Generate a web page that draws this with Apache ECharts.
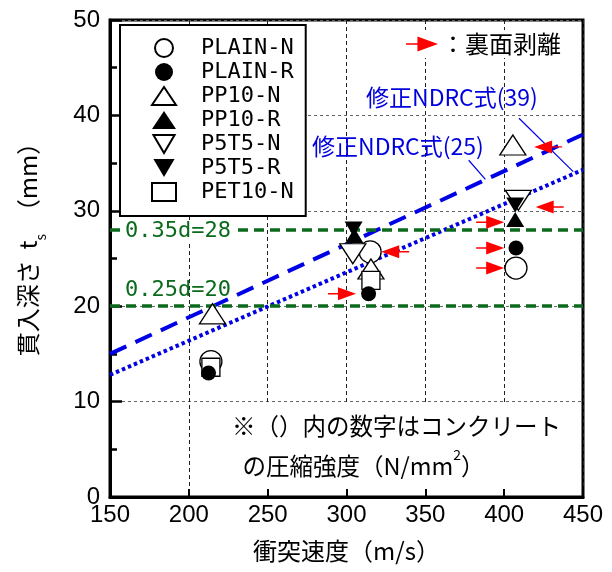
<!DOCTYPE html>
<html>
<head>
<meta charset="utf-8">
<script src="https://cdn.jsdelivr.net/npm/echarts/dist/echarts.min.js"></script>
<style>
  html, body { margin: 0; padding: 0; background: #fff; }
  #chart { width: 612px; height: 572px; }
</style>
</head>
<body>
<div id="chart"></div>
<script>
// measured penetration depth t_s (mm) vs impact speed (m/s)
var plainN = [[214, 14.2], [315, 25.7], [407.5, 24.0]];
var plainR = [[212.5, 13.0], [314, 21.3], [407.5, 26.1]];
var pp10N = [[215, 19.2], [315.5, 23.9], [405.5, 36.9]];
var pp10R = [[305, 27.4], [407, 29.1]];
var p5t5N = [[304, 25.5], [409, 31.1]];
var p5t5R = [[304.5, 28.1], [407, 30.6]];
var pet10N = [[214, 13.6], [315.5, 22.7]];

// rear-face spalling markers (arrow tip positions)
var spallRight = [[306, 21.3], [400, 28.8], [400, 26.1], [400, 24.0]];
var spallLeft = [[322, 25.7], [419, 36.7], [420, 30.4]];

// modified NDRC formula, concrete strength 25 / 39 N/mm2
var ndrc25 = [[150, 15.0], [450, 38.0]];
var ndrc39 = [[150, 12.8], [450, 34.3]];
var lead25 = [[377.5, 35.3], [388.1, 33.3]];
var lead39 = [[409.4, 39.7], [443.8, 34.1]];

// 0.35d / 0.25d limits
var limits = [28, 20];
var limitLabels = ['0.35d=28', '0.25d=20'];

var xTicks = { min: 150, max: 450, step: 50 };
var yTicks = { min: 0, max: 50, step: 10 };

var numFont = 'Liberation Sans, sans-serif';
var monoFont = 'DejaVu Sans Mono, monospace';
var jpFont = 'Noto Sans CJK JP, sans-serif';

var chart = echarts.init(document.getElementById('chart'));

var openStyle = { color: '#fff', borderColor: '#000', borderWidth: 1.3, opacity: 1 };
var fillStyle = { color: '#000', borderColor: '#000', borderWidth: 0, opacity: 1 };
var downTri = 'path://M0,0 L20,0 L10,17 Z';
var arrowR = 'path://M0,5.8 L10,5.8 L10,0 L28,6.5 L10,13 L10,7.2 L0,7.2 Z';
var arrowL = 'path://M28,5.8 L18,5.8 L18,0 L0,6.5 L18,13 L18,7.2 L28,7.2 Z';

function pts(name, data, symbol, size, style, z) {
  return {
    name: name,
    type: 'scatter',
    data: data,
    symbol: symbol,
    symbolSize: size,
    itemStyle: style,
    z: z,
    emphasis: { disabled: true }
  }
}

chart.setOption({
  animation: false,
  grid: {
    left: 103,
    right: 29,
    top: 20,
    bottom: 75,
    show: true,
    borderColor: '#000',
    borderWidth: 3
  },
  legend: [{
    data: ['PLAIN-N', 'PLAIN-R', 'PP10-N', 'PP10-R', 'P5T5-N', 'P5T5-R', 'PET10-N'],
    orient: 'vertical',
    left: 120,
    top: 25,
    padding: [12, 12, 13, 31],
    itemWidth: 24,
    itemHeight: 18,
    itemGap: 2,
    backgroundColor: '#fff',
    borderColor: '#000',
    borderWidth: 2,
    borderRadius: 0,
    selectedMode: false,
    textStyle: {
      fontFamily: monoFont,
      fontSize: 22,
      color: '#000',
      padding: [0, 0, 0, 20]
    }
  }, {
    data: ['裏面剥離'],
    left: 404,
    top: 30,
    padding: [2, 4, 2, 2],
    itemWidth: 32,
    itemHeight: 15,
    backgroundColor: '#fff',
    selectedMode: false,
    formatter: '：裏面剥離',
    textStyle: { fontFamily: jpFont, fontSize: 24, color: '#000', padding: [0, 0, 0, -2] }
  }],
  xAxis: {
    type: 'value',
    min: xTicks.min,
    max: xTicks.max,
    interval: xTicks.step,
    name: '衝突速度（m/s）',
    nameLocation: 'middle',
    nameGap: 42,
    nameTextStyle: { fontFamily: jpFont, fontSize: 24, color: '#000' },
    axisLine: { lineStyle: { color: '#000', width: 3 } },
    axisTick: { inside: true, length: 8, lineStyle: { color: '#000', width: 2 } },
    axisLabel: { fontFamily: numFont, fontSize: 24, color: '#000', margin: 6 },
    splitLine: { show: true, lineStyle: { color: '#222', width: 1, type: [4, 3] } }
  },
  yAxis: {
    type: 'value',
    min: yTicks.min,
    max: yTicks.max,
    interval: yTicks.step,
    name: '貫入深さ  t{s|s}  （mm）',
    nameLocation: 'middle',
    nameRotate: 90,
    nameGap: 62,
    nameTextStyle: {
      fontFamily: jpFont, fontSize: 24, color: '#000', lineHeight: 30,
      padding: [0, 0, 0, 30],
      rich: { s: { fontFamily: jpFont, fontSize: 14, lineHeight: 40, verticalAlign: 'bottom', color: '#000' } }
    },
    axisLine: { lineStyle: { color: '#000', width: 3 } },
    axisTick: { inside: true, length: 12, lineStyle: { color: '#000', width: 2.5 } },
    minorTick: { show: true, splitNumber: 2, length: 7, lineStyle: { color: '#000', width: 2.5 } },
    axisLabel: { fontFamily: numFont, fontSize: 24, color: '#000', margin: 10 },
    splitLine: { show: true, lineStyle: { color: '#666', width: 1, type: [3, 3] } }
  },
  graphic: [{
    type: 'text',
    left: 366,
    top: 86,
    z: 50,
    style: { text: '修正NDRC式(39)', fill: '#0000dd', font: '23px ' + jpFont }
  }, {
    type: 'text',
    left: 312,
    top: 135,
    z: 50,
    style: { text: '修正NDRC式(25)', fill: '#0000dd', font: '23px ' + jpFont }
  }, {
    type: 'text',
    left: 226,
    top: 404,
    z: 50,
    style: {
      text: '※（）内の数字はコンクリート\n  の圧縮強度（N/mm{sup|2}）',
      fill: '#000',
      font: '23.5px ' + jpFont,
      lineHeight: 40,
      backgroundColor: '#fff',
      padding: [2, 6, 0, 6],
      rich: {
        sup: { fontSize: 14, verticalAlign: 'top', lineHeight: 40, padding: [2, 0, 0, 0], fill: '#000', fontFamily: jpFont }
      }
    }
  }],
  series: [
    {
      name: 'limits',
      type: 'line',
      data: [],
      z: 3,
      markLine: {
        silent: true,
        symbol: 'none',
        lineStyle: { color: '#0b6b1c', width: 3.5, type: [10, 6] },
        data: [
          {
            yAxis: limits[0],
            label: {
              formatter: limitLabels[0], position: 'insideStartTop', distance: [12, -12],
              color: '#0b6b1c', fontFamily: monoFont, fontSize: 22, backgroundColor: '#fff', padding: [0, 3]
            }
          },
          {
            yAxis: limits[1],
            label: {
              formatter: limitLabels[1], position: 'insideStartTop', distance: [15, 5],
              color: '#0b6b1c', fontFamily: monoFont, fontSize: 22
            }
          }
        ]
      }
    },
    {
      name: 'NDRC25',
      type: 'line',
      data: ndrc25,
      showSymbol: false,
      z: 4,
      lineStyle: { color: '#0000e6', width: 4, type: [18, 10] }
    },
    {
      name: 'NDRC39',
      type: 'line',
      data: ndrc39,
      showSymbol: false,
      z: 4,
      lineStyle: { color: '#0000e6', width: 4, type: [3.5, 3] }
    },
    {
      name: 'lead25',
      type: 'line',
      data: lead25,
      showSymbol: false,
      z: 4,
      lineStyle: { color: '#0000e6', width: 1.2 }
    },
    {
      name: 'lead39',
      type: 'line',
      data: lead39,
      showSymbol: false,
      z: 4,
      lineStyle: { color: '#0000e6', width: 1.2 }
    },
    pts('PLAIN-N', plainN, 'circle', 22, openStyle, 5),
    pts('PP10-N', pp10N, 'triangle', [26, 20], openStyle, 5),
    pts('P5T5-N', p5t5N, downTri, [26, 20], openStyle, 5),
    pts('PET10-N', pet10N, 'rect', 18, openStyle, 5),
    pts('PLAIN-R', plainR, 'circle', 15, fillStyle, 6),
    pts('PP10-R', pp10R, 'triangle', [18, 15], fillStyle, 6),
    pts('P5T5-R', p5t5R, downTri, [18, 15], fillStyle, 6),
    {
      name: '裏面剥離',
      type: 'scatter',
      data: spallRight,
      symbol: arrowR,
      symbolSize: [28, 13],
      symbolOffset: [-14, 0],
      itemStyle: { color: '#ff0000', opacity: 1 },
      z: 7
    },
    {
      name: '裏面剥離',
      type: 'scatter',
      data: spallLeft,
      symbol: arrowL,
      symbolSize: [28, 13],
      symbolOffset: [14, 0],
      itemStyle: { color: '#ff0000', opacity: 1 },
      z: 7
    }
  ]
});
</script>
</body>
</html>
